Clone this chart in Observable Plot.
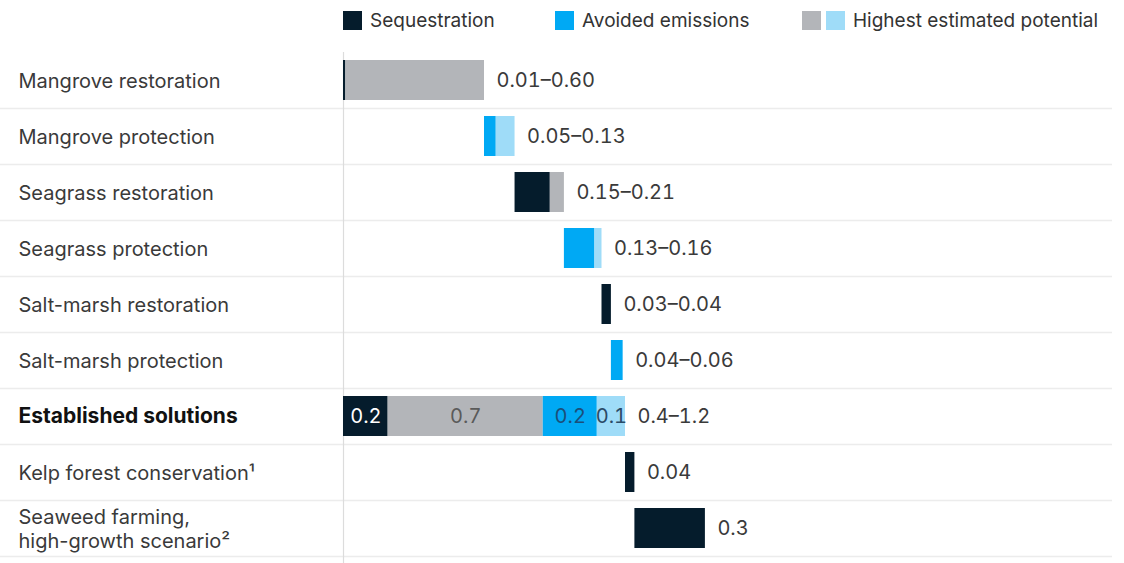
<!DOCTYPE html>
<html>
<head>
<meta charset="utf-8">
<script src="https://cdn.jsdelivr.net/npm/d3@7"></script>
<script src="https://cdn.jsdelivr.net/npm/@observablehq/plot@0.6"></script>
<style>
  html, body { margin: 0; padding: 0; background: #fff; }
  body { width: 1124px; height: 563px; position: relative; overflow: hidden; font-family: Inter, "Liberation Sans", sans-serif; }
  #legend { position: absolute; left: 0; top: 0; width: 1124px; height: 40px; font-size: 19px; color: #333; }
  #legend .item { position: absolute; top: 10px; height: 20px; display: flex; align-items: center; white-space: nowrap; }
  #legend .sw { width: 19px; height: 19px; display: inline-block; margin-right: 8px; }
  #legend .sw + .sw { margin-left: -3px; }
  #chart { position: absolute; left: 0; top: 40px; }
</style>
</head>
<body>
<div id="legend"></div>
<div id="chart"></div>
<script>
// ---- data ----
const categories = [
  "Mangrove restoration",
  "Mangrove protection",
  "Seagrass restoration",
  "Seagrass protection",
  "Salt-marsh restoration",
  "Salt-marsh protection",
  "Established solutions",
  "Kelp forest conservation¹",
  "Seaweed farming,\nhigh-growth scenario²"
];
const totalCategory = "Established solutions";
const sequestration      = [0.01, 0,    0.15, 0,    0.04, 0,    0.19, 0.04, 0.30];
const highSequestration  = [0.59, 0,    0.06, 0,    0,    0,    0.66, 0,    0   ];
const avoidedEmissions   = [0,    0.05, 0,    0.13, 0,    0.05, 0.23, 0,    0   ];
const highAvoided        = [0,    0.08, 0,    0.03, 0,    0,    0.12, 0,    0   ];
const rangeLabels = ["0.01–0.60", "0.05–0.13", "0.15–0.21", "0.13–0.16", "0.03–0.04", "0.04–0.06", "0.4–1.2", "0.04", "0.3"];
const totalSegmentLabels = ["0.2", "0.7", "0.2", "0.1"];
const seriesKeys = ["Sequestration", "Highest (sequestration)", "Avoided emissions", "Highest (avoided)"];
const seriesColors = ["#051c2c", "#b3b5b9", "#00a9f4", "#9fdcf8"];
const segmentTextColors = ["#ffffff", "#5a5a5a", "#1b4f7a", "#2a4a66"];
const legendTexts = ["Sequestration", "Avoided emissions", "Highest estimated potential"];

// ---- derived tables ----
const seriesValues = [sequestration, highSequestration, avoidedEmissions, highAvoided];
const rows = [];
const segments = [];
let pos = 0;
categories.forEach((cat, i) => {
  let start = cat === totalCategory ? 0 : pos;
  const rowStart = start;
  seriesKeys.forEach((key, k) => {
    const v = seriesValues[k][i];
    if (v > 0) {
      segments.push({cat, key, x1: start, x2: start + v, k,
        label: cat === totalCategory ? totalSegmentLabels[k] : null});
      start += v;
    }
  });
  rows.push({cat, start: rowStart, end: start, label: rangeLabels[i]});
  pos = start;
});

// legend
const legend = document.getElementById("legend");
const legendItems = [
  {colors: [seriesColors[0]], text: legendTexts[0], left: 343},
  {colors: [seriesColors[2]], text: legendTexts[1], left: 555},
  {colors: [seriesColors[1], seriesColors[3]], text: legendTexts[2], left: 802}
];
legendItems.forEach(it => {
  const d = document.createElement("div");
  d.className = "item";
  d.style.left = it.left + "px";
  it.colors.forEach(c => {
    const s = document.createElement("span");
    s.className = "sw"; s.style.background = c; d.appendChild(s);
  });
  const t = document.createElement("span"); t.textContent = it.text; d.appendChild(t);
  legend.appendChild(d);
});

const font = "Inter, 'Liberation Sans', sans-serif";
const chart = Plot.plot({
  width: 1124,
  height: 523,
  marginLeft: 0,
  marginRight: 12,
  marginTop: 12,
  marginBottom: 0,
  style: {fontFamily: font, fontSize: "20px", color: "#333", background: "#fff", overflow: "visible"},
  x: {domain: [-343 / 235, 769 / 235], axis: null},
  y: {domain: categories, range: [12, 516], paddingInner: 0.286, paddingOuter: 0.143, axis: null},
  color: {domain: seriesKeys, range: seriesColors},
  marks: [
    // row separators
    Plot.ruleY(categories, {y: d => d, dy: 28, stroke: "#ececec", strokeWidth: 1.5}),
    // zero line
    Plot.ruleX([0], {stroke: "#dcdcdc", strokeWidth: 1.2}),
    // connectors
    Plot.ruleX(rows, {x: "end", y: "cat", stroke: "#d6d6d6", strokeWidth: 1}),
    Plot.ruleX(rows, {x: "start", y: "cat", stroke: "#d6d6d6", strokeWidth: 1}),
    // bars
    Plot.barX(segments, {x1: "x1", x2: "x2", y: "cat", fill: "key"}),
    // segment labels in total bar
    ...seriesKeys.map((key, k) => Plot.text(segments.filter(s => s.label && s.k === k), {
      x: s => (s.x1 + s.x2) / 2, y: "cat", text: "label", fill: segmentTextColors[k], fontSize: 20,
      fontVariant: "tabular-nums"
    })),
    // range labels
    Plot.text(rows, {x: "end", y: "cat", text: "label", dx: 12, textAnchor: "start", fill: "#3a3a3a",
      fontSize: 20, fontVariant: "tabular-nums"}),
    // category labels
    Plot.text(categories.filter(c => c !== totalCategory), {y: d => d, text: d => d, frameAnchor: "left", dx: 18,
      textAnchor: "start", fill: "#3a3a3a", fontSize: 20, lineHeight: 1.2}),
    Plot.text([totalCategory], {y: d => d, text: d => d, frameAnchor: "left", dx: 18,
      textAnchor: "start", fill: "#111", fontSize: 21, fontWeight: "bold"})
  ]
});
document.getElementById("chart").appendChild(chart);
</script>
</body>
</html>
